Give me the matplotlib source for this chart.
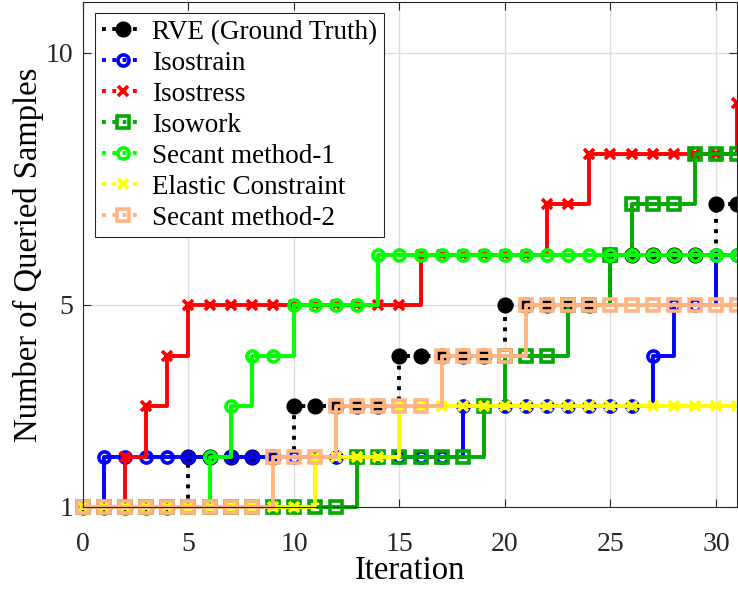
import numpy as np
import matplotlib
matplotlib.use("Agg")
import matplotlib.pyplot as plt
from matplotlib.lines import Line2D

plt.rcParams['font.family'] = ['Liberation Serif', 'DejaVu Serif']
plt.rcParams['mathtext.fontset'] = 'stix'

# DATA
iteration = list(range(32))
rve = [1, 1, 1, 1, 1, 2, 2, 2, 2, 2, 3, 3, 3, 3, 3, 4, 4, 4, 4, 4,
       5, 5, 5, 5, 5, 6, 6, 6, 6, 6, 7, 7]
isostrain = [1] + [2] * 17 + [3] * 9 + [4] + [5] * 2 + [6] * 2
isostress = [1, 1, 2, 3, 4] + [5] * 11 + [6] * 6 + [7] * 2 + [8] * 7 + [9]
isowork = [1] * 13 + [2] * 6 + [3] + [4] * 3 + [5] * 2 + [6] + [7] * 3 + [8] * 3
secant1 = [1] * 6 + [2, 3, 4, 4] + [5] * 4 + [6] * 18
elastic = [1] * 11 + [2] * 4 + [3] * 17
secant2 = [1] * 9 + [2] * 3 + [3] * 5 + [4] * 4 + [5] * 11

labels = ["RVE (Ground Truth)", "Isostrain", "Isostress", "Isowork",
          "Secant method-1", "Elastic Constraint", "Secant method-2"]
series = [rve, isostrain, isostress, isowork, secant1, elastic, secant2]

# STYLE
colors = ['black', '#0000FF', '#FF0000', '#00AA00', '#00FF00', '#FFFF00', '#FFB482']
markers = ['o', 'o', 'x', 's', 'o', 'x', 's']
msizes = [9, 8, 7, 8.5, 8, 7, 8.5]
lstyles = [':', '-', '-', '-', '-', '-', '-']
filled = [True, False, True, False, False, True, False]

fig = plt.figure(figsize=(7.38, 5.92), dpi=100)
ax = fig.add_axes([83 / 738, 85 / 592, 654 / 738, 505 / 592])

for y, c, m, ms, ls, f in zip(series, colors, markers, msizes, lstyles, filled):
    ax.plot(iteration, y, drawstyle='steps-post', color=c, linestyle=ls,
            linewidth=2.8, marker=m, markersize=ms, markeredgewidth=2.6,
            markerfacecolor=c if f else 'none', markeredgecolor=c,
            clip_on=False)

ax.set_xlim(0, 31)
ax.set_ylim(1, 11)
ax.set_xticks([0, 5, 10, 15, 20, 25, 30])
ax.set_yticks([1, 5, 10])
ax.grid(True, color='#dcdcdc', linewidth=1)
ax.set_axisbelow(True)
ax.tick_params(direction='in', length=6, width=0.8, top=True, right=True,
               labelsize=20, colors='#262626')
ax.tick_params(axis='x', pad=18)
ax.tick_params(axis='y', pad=7)
for sp in ax.spines.values():
    sp.set_color('#262626')
    sp.set_linewidth(0.8)
ax.set_xlabel("Iteration", fontsize=23.5, labelpad=-1)
ax.set_ylabel("Number of Queried Samples", fontsize=23.5, labelpad=1)

# legend shows dotted lines for every entry
handles = [Line2D([], [], color=c, linestyle=':', linewidth=2.8, marker=m,
                  markersize=ms, markeredgewidth=2.6,
                  markerfacecolor=c if f else 'none', markeredgecolor=c)
           for c, m, ms, f in zip(colors, markers, msizes, filled)]
leg = ax.legend(handles, labels, loc='upper left', bbox_to_anchor=(0.019, 0.978),
                borderaxespad=0, fontsize=19.5, labelspacing=0.22, handlelength=1.5,
                handletextpad=0.35, borderpad=0.25, fancybox=False, framealpha=1,
                edgecolor='#262626')
leg.get_frame().set_linewidth(0.8)

plt.savefig("out.png", dpi=100)
